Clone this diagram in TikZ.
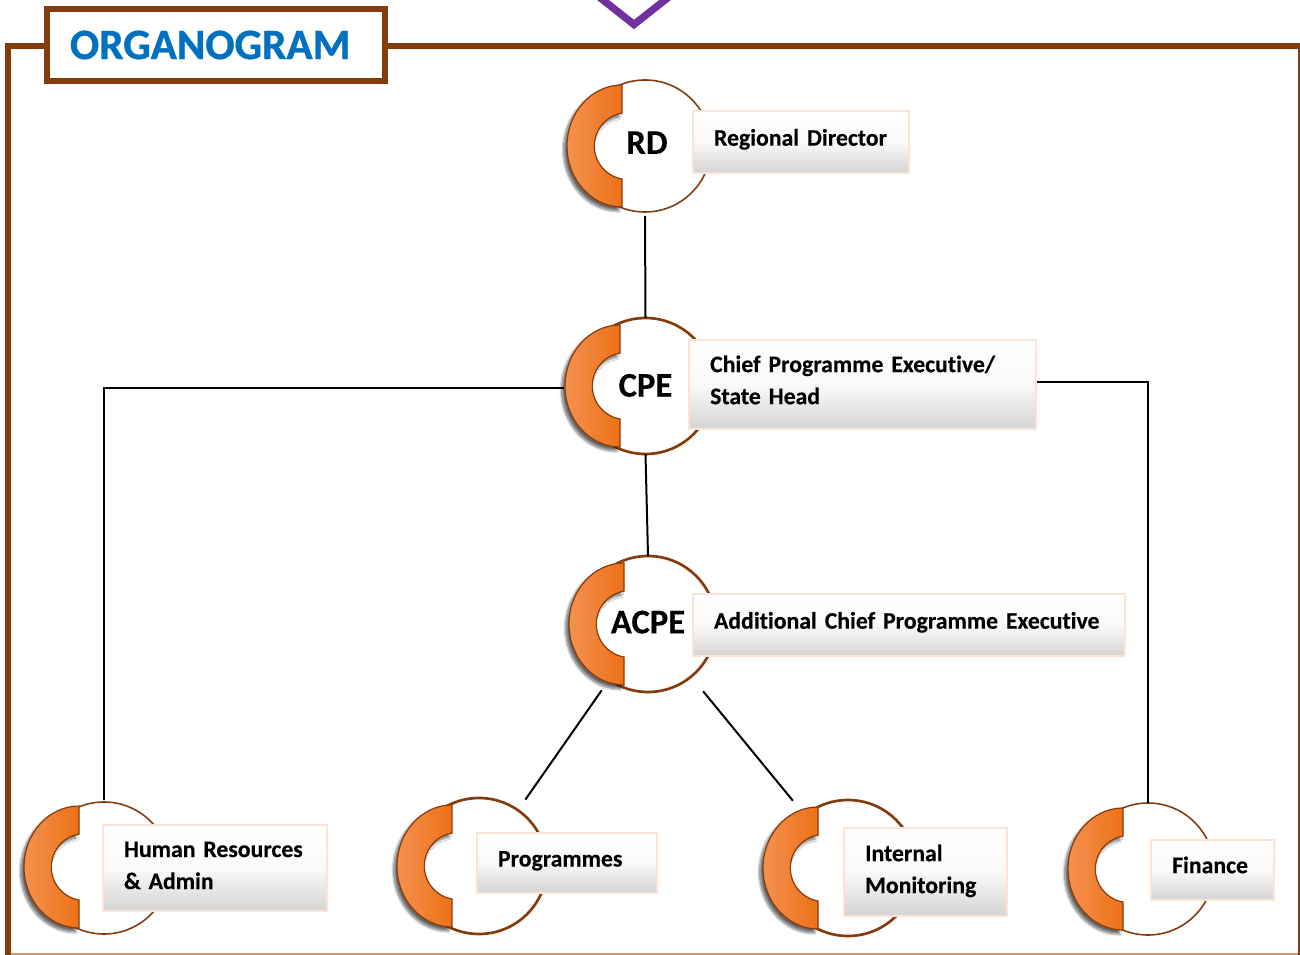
\documentclass[tikz,border=0pt]{standalone}
\usepackage{fontspec}
\setmainfont{Carlito}[WordSpace=0.6,Ligatures=NoCommon,BoldFeatures={FakeBold=0.3}]
\newfontfamily\titlefont{Carlito}[Ligatures=NoCommon,BoldFeatures={FakeBold=0.9}]
\usetikzlibrary{shadows.blur}
\definecolor{orgbrown}{HTML}{843C0C}
\definecolor{orgblue}{HTML}{0070C0}
\definecolor{orgpurple}{HTML}{7030A0}
\definecolor{orgpeach}{HTML}{FBE4D5}
\definecolor{orgtan}{HTML}{C9997B}
\definecolor{orgorangel}{HTML}{F4914F}
\definecolor{orgoranger}{HTML}{ED7117}
\tikzset{
  ring/.style={circle,draw=orgbrown,fill=white,line width=1.2pt,inner sep=0pt,outer sep=0pt,
    font=\fontsize{26}{26}\selectfont\bfseries},
  heavy/.style={line width=2pt},
  crescent/.style={draw=orgbrown,line width=.9pt,left color=orgorangel,right color=orgoranger,
    blur shadow={shadow xshift=-2.5pt,shadow yshift=-3pt,shadow blur steps=12,shadow opacity=60}},
  namebox/.style={rectangle,draw=orgpeach,line width=1.5pt,top color=white,bottom color=black!17,middle color=black!2,
    inner xsep=15.75pt,inner ysep=0pt,align=left,font=\fontsize{17.8}{24}\selectfont\bfseries},
  link/.style={draw=black,line width=1.5pt},
  frameline/.style={draw=orgbrown,line width=4.2pt,line join=miter}
}
% name, centre x, centre y, radius, crescent left, crescent right, text
\newcommand{\orgring}[7][]{
  \node[ring,#1,minimum size={#4*1.5pt}] (#2) at (#3) {#7};
  \path[crescent] (#6,{\ringy-61}) arc[start angle=270,end angle=90,x radius={#6-#5-1},y radius=61] -- (#6,{\ringy+33})
    arc[start angle=100,end angle=260,radius=33.5] -- cycle;
  \coordinate (#2tip) at (#5,\ringy);
}
\newcommand{\lift}[1]{\rule[-#1]{0pt}{1pt}}
\begin{document}
\begin{tikzpicture}[x=.75pt,y=-.75pt]
  \path[use as bounding box] (0,0) rectangle (1300,955);
  % frame
  \draw[orgtan,line width=1pt] (8,954) -- (1300,954);
  \draw[frameline] (8,960) -- (8,46) -- (1301,46) -- (1301,960);
  \draw[orgpurple,line width=5.5pt,line join=miter] (584,-15) -- (634,24.5) -- (684,-15);
  \node[draw=orgbrown,line width=4.5pt,fill=white,minimum width=253.5pt,minimum height=54pt,inner sep=0pt,
    text=orgblue,font=\fontsize{32.4}{32}\selectfont\titlefont\bfseries,text width=219pt,align=left] (title) at (216,45) {\raisebox{-.8pt}{ORGANOGRAM}};
  % circles
  \def\ringy{146}\orgring{rd}{645,146}{66}{566}{622}{\hspace*{3pt}\raisebox{5pt}{RD}}
  \def\ringy{386}\orgring[heavy]{cpe}{645.5,386}{68}{564}{620}{\raisebox{1pt}{CPE}}
  \def\ringy{624}\orgring[heavy]{acpe}{648,624}{68}{568}{624}{\raisebox{3pt}{ACPE}}
  \def\ringy{867}\orgring{hr}{104,868}{66}{23}{79}{}
  \def\ringy{866}\orgring[heavy]{prog}{479,866}{68}{396}{452}{}
  \def\ringy{868}\orgring[heavy]{intmon}{848,868}{68}{762}{818}{}
  \def\ringy{869}\orgring{fin}{1148,869}{66}{1067}{1123}{}
  % boxes
  \node[namebox,minimum height=46pt,text width=130.5pt] (rdbox) at (801,142) {Regional Director\lift{7pt}};
  \node[namebox,minimum height=67pt,text width=228.5pt] (cpebox) at (862.5,384.5) {Chief Programme Executive/\\State Head\lift{7pt}};
  \node[namebox,minimum height=46pt,text width=292.5pt] (acpebox) at (909,625) {Additional Chief Programme Executive\lift{7pt}};
  \node[namebox,minimum height=65pt,text width=136.5pt] (hrbox) at (215,868) {Human Resources\\\& Admin\lift{4pt}};
  \node[namebox,minimum height=45pt,text width=103.5pt] (progbox) at (567,862.5) {Programmes\lift{5.5pt}};
  \node[namebox,minimum height=66pt,text width=90.5pt] (intmonbox) at (925.5,871.5) {Internal\\Monitoring\lift{4pt}};
  \node[namebox,minimum height=45pt,text width=60.5pt] (finbox) at (1212.5,869.5) {Finance\lift{7pt}};
  % links
  \draw[link] ([yshift=-3pt]rd.south) -- (cpe.north);
  \draw[link] (cpe.south) -- (acpe.north);
  \draw[link] ([yshift=-1.5pt]cpetip) -| ([yshift=1.5pt]hr.north);
  \draw[link] ([yshift=2pt]cpebox.east) -| (fin.north);
  \draw[link,shorten <=9.75pt,shorten >=9.75pt] (acpe) -- (prog);
  \draw[link,shorten <=14.25pt,shorten >=14.25pt] (acpe) -- (intmon);
\end{tikzpicture}
\end{document}
